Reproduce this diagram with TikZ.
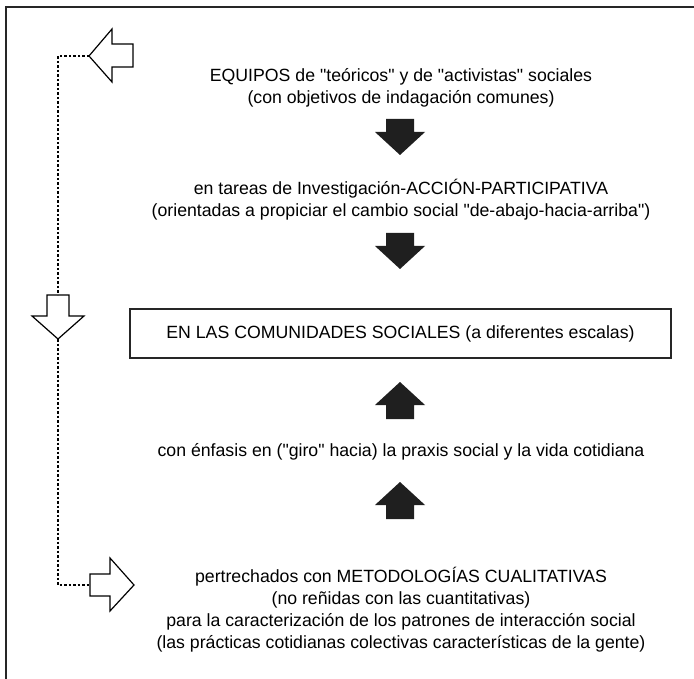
\documentclass[tikz,border=0pt]{standalone}
\usepackage{fontspec}
\setmainfont[Ligatures=TeXOff]{Liberation Sans}
\begin{document}
\begin{tikzpicture}[x=1pt,y=-1pt,
  txt/.style={inner sep=0pt,align=center,font=\fontsize{17.7}{22}\selectfont},
  hollow/.style={draw=black,line width=1.2pt,fill=white,line join=miter},
  link/.style={line width=1.1pt,dash pattern=on 2.5pt off 2pt},
  frameline/.style={line width=1.5pt,draw=black!85},
  downblk/.pic={\fill[black!88] (-14,0) -- (14,0) -- (14,13) -- (25,13) -- (0,36) -- (-25,13) -- (-14,13) -- cycle;},
  upblk/.pic={\fill[black!88] (0,0) -- (25,23) -- (14,23) -- (14,37) -- (-14,37) -- (-14,23) -- (-25,23) -- cycle;}
]
\useasboundingbox (0,0) rectangle (694,679);
% frame
\draw[frameline] (6,679) -- (6,7) -- (694,7);

% texts
\node[txt] (t1) at (401,88) {EQUIPOS de "teóricos" y de "activistas" sociales\\(con objetivos de indagación comunes)};
\node[txt] (t2) at (401,200) {en tareas de Investigación-ACCIÓN-PARTICIPATIVA\\(orientadas a propiciar el cambio social "de-abajo-hacia-arriba")};
\node[draw=black!85,line width=1.2pt,minimum width=541pt,minimum height=49pt,inner sep=0pt,font=\fontsize{17.7}{22}\selectfont] (box) at (400.5,333.5) {EN LAS COMUNIDADES SOCIALES (a diferentes escalas)};
\node[txt] (t3) at (401,452) {con énfasis en ("giro" hacia) la praxis social y la vida cotidiana};
\node[txt] (t4) at (401,610) {pertrechados con METODOLOGÍAS CUALITATIVAS\\(no reñidas con las cuantitativas)\\para la caracterización de los patrones de interacción social\\(las prácticas cotidianas colectivas características de la gente)};

% black arrows
\pic at (400,119) {downblk};
\pic at (400,233) {downblk};
\pic at (400,382) {upblk};
\pic at (400,482) {upblk};

% hollow arrows
\draw[hollow] (89,56) -- (112,29) -- (112,44) -- (133,44) -- (133,67) -- (112,67) -- (112,82) -- cycle;
\coordinate (ltip) at (89,56);
\draw[hollow] (47,295) -- (69,295) -- (69,316) -- (84,316) -- (58,339) -- (32,316) -- (47,316) -- cycle;
\coordinate (dtop) at (58,295);
\coordinate (dtip) at (58,339);
\draw[hollow] (90,574) -- (110,574) -- (110,558) -- (134,585) -- (110,611) -- (110,596) -- (90,596) -- cycle;
\coordinate (rtail) at (90,585);

% dotted links
\draw[link] (ltip) -| (dtop);
\draw[link] (dtip) |- (rtail);
\end{tikzpicture}
\end{document}
